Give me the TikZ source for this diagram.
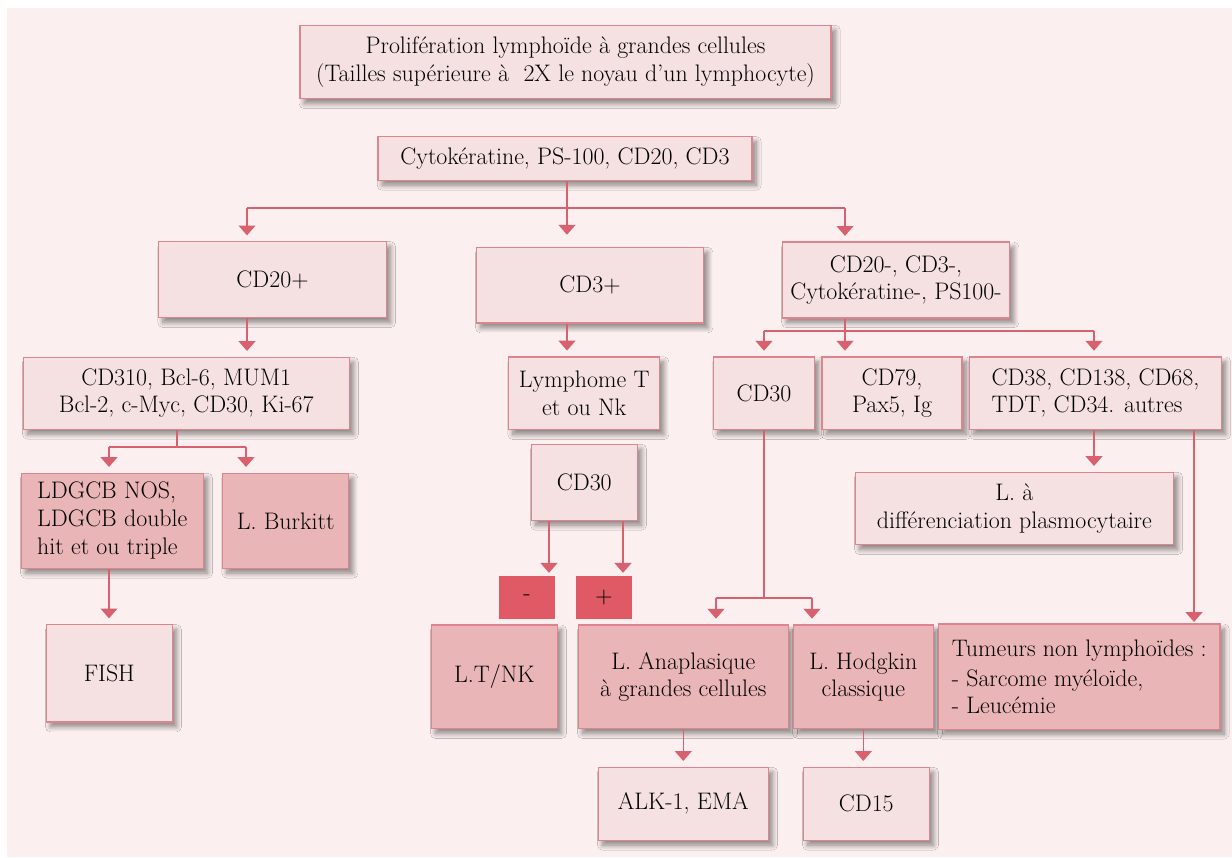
\documentclass[tikz,border=0pt]{standalone}
\usepackage{fontspec}
\usepackage{xcolor}
\usepackage{tikz}
\usetikzlibrary{arrows.meta,shadows.blur}

\definecolor{bgpink}{RGB}{251,240,239}
\definecolor{boxfill}{RGB}{246,225,226}
\definecolor{boxfilldark}{RGB}{234,181,182}
\definecolor{boxline}{RGB}{222,132,142}
\definecolor{linkred}{RGB}{217,96,111}
\definecolor{signred}{RGB}{224,90,102}

\begin{document}
\begin{tikzpicture}[x=0.025cm, y=-0.025cm,
    box/.style={draw=boxline, line width=1pt, fill=boxfill, inner sep=0pt, align=center,
        font=\fontsize{17}{19.5}\selectfont,
        blur shadow={shadow xshift=3pt, shadow yshift=-3.5pt, shadow blur radius=3.5pt,
            shadow blur steps=12, shadow blur extra rounding=0pt, shadow opacity=45}},
    hitbox/.style={box, fill=boxfilldark},
    signbox/.style={fill=signred, inner sep=0pt, minimum width=1.4cm, minimum height=1.07cm,
        font=\fontsize{17}{19.5}\selectfont},
    link/.style={draw=linkred, line width=1pt},
    arr/.style={link, -{Triangle[width=12pt, length=7pt]}, shorten >=4pt}]
    \useasboundingbox (0,0) rectangle (1232,857);
    \fill[bgpink] (7,8) rectangle (1232,857);

    \node[box, minimum width=13.275cm, minimum height=1.835cm] (title) at (565.5,62)
        {Prolifération lymphoïde à grandes cellules\\(Tailles supérieure à~ 2X le noyau d’un lymphocyte)};
    \node[box, minimum width=9.35cm, minimum height=1.09cm] (cyto) at (565,158.5) {Cytokératine, PS-100, CD20, CD3};
    \node[box, minimum width=5.69cm, minimum height=1.9cm] (cd20p) at (272.5,279.7) {CD20+};
    \node[box, minimum width=5.68cm, minimum height=1.89cm] (cd3p) at (590,285.2) {CD3+};
    \node[box, minimum width=5.68cm, minimum height=1.89cm] (neg) at (896,280) {CD20-, CD3-,\\Cytokératine-, PS100-};
    \node[box, minimum width=8.15cm, minimum height=1.8cm] (cd310) at (186.3,393.3) {CD310, Bcl-6, MUM1\\Bcl-2, c-Myc, CD30, Ki-67};
    \node[hitbox, minimum width=4.55cm, minimum height=2.375cm, align=left, font=\fontsize{17}{20}\selectfont] (ldgcb) at (112.3,520.8)
        {LDGCB NOS,\\LDGCB double\\hit et ou triple};
    \node[hitbox, minimum width=3.15cm, minimum height=2.375cm] (burkitt) at (285.7,520.8) {L. Burkitt};
    \node[box, minimum width=3.15cm, minimum height=2.43cm] (fish) at (109.3,673.3) {FISH};
    \node[box, minimum width=3.775cm, minimum height=1.82cm] (lymT) at (584.2,393.3) {Lymphome T\\et ou Nk};
    \node[box, minimum width=2.65cm, minimum height=1.9cm] (cd30m) at (584.3,482.3) {CD30};
    \node[signbox] (minus) at (527,597.3) {-};
    \node[signbox] (plus) at (604,597.3) {+};
    \node[hitbox, minimum width=3.15cm, minimum height=2.59cm] (ltnk) at (494.3,676.8) {L.T/NK};
    \node[hitbox, minimum width=5.25cm, minimum height=2.59cm] (anap) at (683.3,676.8) {L. Anaplasique\\à grandes cellules};
    \node[hitbox, minimum width=3.5cm, minimum height=2.59cm] (hodg) at (863.3,676.8) {L. Hodgkin\\classique};
    \node[box, minimum width=4.25cm, minimum height=1.825cm] (alk) at (683.3,803.8) {ALK-1, EMA};
    \node[box, minimum width=3.15cm, minimum height=1.825cm] (cd15) at (866.3,803.8) {CD15};
    \node[box, minimum width=2.525cm, minimum height=1.81cm] (cd30r) at (764,393.2) {CD30};
    \node[box, minimum width=3.5cm, minimum height=1.81cm] (cd79) at (892,393.2) {CD79,\\Pax5, Ig};
    \node[box, minimum width=6.3cm, minimum height=1.81cm, align=left] (cd38) at (1095.5,393.2) {CD38, CD138, CD68,\\TDT, CD34. autres};
    \node[box, minimum width=7.95cm, minimum height=1.81cm] (plasmo) at (1014.4,508.5) {L. à\\ différenciation plasmocytaire};
    \node[hitbox, minimum width=7.04cm, minimum height=2.63cm, align=left] (tumeurs) at (1079.2,676.7)
        {Tumeurs non lymphoïdes :\\[2pt]- Sarcome myéloïde,\\- Leucémie};

    \coordinate (cytoM) at (567,208);
    \coordinate (cytoL) at (247,208);
    \coordinate (cytoR) at (845,208);
    \draw[link] (cytoM |- cyto.south) -- (cytoM);
    \draw[link] (cytoL) -- (cytoR);
    \draw[arr] (cytoL) -- (cytoL |- cd20p.north);
    \draw[arr, shorten >=8.5pt] (cytoM) -- (cytoM |- cd3p.north);
    \draw[arr] (cytoR) -- (cytoR |- neg.north);
    \draw[arr] (cytoL |- cd20p.south) -- (cytoL |- cd310.north);

    \coordinate (c310M) at (177,447);
    \coordinate (c310L) at (109,447);
    \coordinate (c310R) at (246,447);
    \draw[link] (c310M |- cd310.south) -- (c310M);
    \draw[link] (c310L) -- (c310R);
    \draw[arr] (c310L) -- (c310L |- ldgcb.north);
    \draw[arr] (c310R) -- (c310R |- burkitt.north);
    \draw[arr] (c310L |- ldgcb.south) -- (c310L |- fish.north);

    \draw[arr] (cytoM |- cd3p.south) -- (cytoM |- lymT.north);
    \draw[arr, shorten >=2pt] (549,0 |- cd30m.south) -- (549,0 |- minus.north);
    \draw[arr, shorten >=2pt] (623,0 |- cd30m.south) -- (623,0 |- plus.north);

    \coordinate (negM) at (845,331);
    \coordinate (negL) at (764,331);
    \coordinate (negR) at (1094,331);
    \draw[link] (negM |- neg.south) -- (negM);
    \draw[link] (negL) -- (negR);
    \draw[arr] (negL) -- (negL |- cd30r.north);
    \draw[arr] (negM) -- (negM |- cd79.north);
    \draw[arr] (negR) -- (negR |- cd38.north);
    \draw[arr] (negR |- cd38.south) -- (negR |- plasmo.north);
    \draw[arr, shorten >=1pt] (1194,0 |- cd38.south) -- (1194,0 |- tumeurs.north);

    \coordinate (c30M) at (764,598);
    \coordinate (c30L) at (716,598);
    \coordinate (c30R) at (812,598);
    \draw[link] (c30M |- cd30r.south) -- (c30M);
    \draw[link] (c30L) -- (c30R);
    \draw[arr] (c30L) -- (c30L |- anap.north);
    \draw[arr] (c30R) -- (c30R |- hodg.north);
    \draw[arr] (anap.south) -- (alk.north);
    \draw[arr] (hodg.south) -- (hodg.south |- cd15.north);
\end{tikzpicture}
\end{document}
